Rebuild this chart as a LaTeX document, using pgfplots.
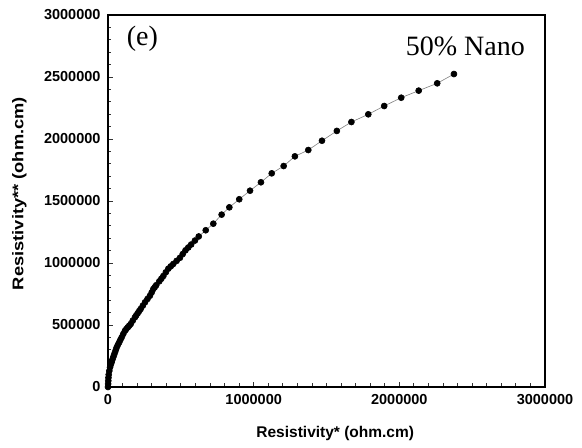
\documentclass[border=0pt]{standalone}
\usepackage{pgfplots}
\pgfplotsset{compat=1.18}
\usepackage{fontspec}
\setmainfont{Liberation Sans}
\newfontfamily\timesfont{Liberation Serif}
\begin{document}
\begin{tikzpicture}
\begin{axis}[
  scale only axis,
  width=437pt, height=372pt,
  xmin=0, xmax=3000000, ymin=0, ymax=3000000,
  axis line style={line width=1.8pt},
  xtick={0,1000000,2000000,3000000},
  ytick={0,500000,1000000,1500000,2000000,2500000,3000000},
  xticklabels={0,1000000,2000000,3000000},
  yticklabels={0,500000,1000000,1500000,2000000,2500000,3000000},
  minor x tick num=9, minor y tick num=4,
  tick align=inside,
  xtick pos=bottom, ytick pos=left,
  major tick length=5pt, minor tick length=3.5pt,
  tick style={line width=0.8pt, black!80},
  scaled ticks=false,
  /pgf/number format/assume math mode=true,
  ticklabel style={font=\fontsize{14.5}{16}\selectfont\bfseries},
  xticklabel style={yshift=-4pt},
  yticklabel style={xshift=-4pt},
  xlabel={Resistivity* (ohm.cm)},
  ylabel={\scalebox{1.18}[1]{Resistivity** (ohm.cm)}},
  label style={font=\fontsize{15.5}{17}\selectfont\bfseries},
  xlabel style={at={(axis description cs:0.52,-0.124)},anchor=center},
  ylabel style={at={(axis description cs:-0.203,0.52)},anchor=center},
  clip=false,
]
\addplot[gray, line width=0.6pt, mark=*, mark size=3pt, mark options={black, fill=black}] coordinates {
(0,0)
(1000,25000)
(2000,50000)
(3000,75000)
(5000,100000)
(9000,130000)
(14000,159000)
(19000,180000)
(25000,200000)
(30000,220000)
(36000,240000)
(42000,260000)
(48000,280000)
(54000,300000)
(60000,320000)
(68000,340000)
(77000,360000)
(85000,380000)
(94000,401000)
(105000,428000)
(117000,454000)
(126000,468000)
(136000,481000)
(146000,495000)
(156000,508000)
(170000,535000)
(185000,562000)
(194000,578000)
(204000,595000)
(214000,612000)
(224000,629000)
(239000,656000)
(254000,683000)
(271000,710000)
(288000,736000)
(300000,763000)
(311000,790000)
(321000,805000)
(331000,821000)
(352000,852000)
(366000,873000)
(380000,895000)
(397000,925000)
(414000,954000)
(431000,973000)
(448000,992000)
(471000,1017000)
(494000,1042000)
(513000,1072000)
(532000,1102000)
(551000,1125000)
(571000,1149000)
(597000,1181000)
(623000,1214000)
(671000,1264000)
(723000,1317000)
(780000,1390000)
(833000,1449000)
(901000,1514000)
(975000,1583000)
(1050000,1651000)
(1124000,1723000)
(1206000,1782000)
(1283000,1860000)
(1375000,1911000)
(1469000,1986000)
(1571000,2065000)
(1671000,2137000)
(1787000,2199000)
(1896000,2266000)
(2013000,2333000)
(2133000,2390000)
(2260000,2449000)
(2375000,2524000)
};
\node[font=\timesfont\fontsize{28}{30}\selectfont, anchor=west] at (axis description cs:0.035,0.935) {(e)};
\node[font=\timesfont\fontsize{28}{30}\selectfont, anchor=east] at (axis description cs:0.962,0.915) {50\% Nano};
\end{axis}
\pgfresetboundingbox
\path ([xshift=-108pt,yshift=-61pt]current axis.south west) rectangle ([xshift=37pt,yshift=15pt]current axis.north east);
\end{tikzpicture}
\end{document}
